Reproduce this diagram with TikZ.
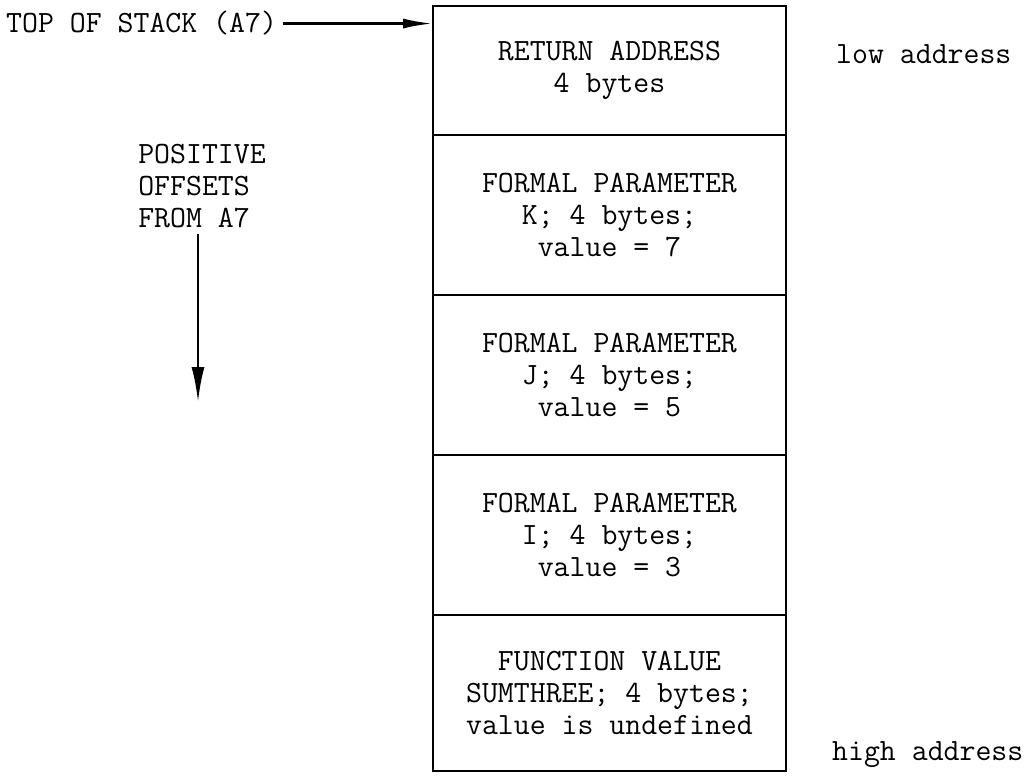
\documentclass[tikz,border=0pt]{standalone}
\usepackage{fontspec}
\usetikzlibrary{positioning,arrows.meta}

\begin{document}
\begin{tikzpicture}[x=0.02cm, y=-0.02cm]
  \tikzset{every node/.style={font=\ttfamily\fontsize{17.6}{18.4}\selectfont},
           cell/.style={draw, line width=1.1pt, outer sep=0pt, align=center, minimum width=7.06cm},
           ptr/.style={line width=1.5pt, -{Latex[length=0.6cm,width=0.2cm]}},
           offptr/.style={line width=1.5pt, -{Latex[length=0.7cm,width=0.26cm]}}}
  \useasboundingbox (0,0) rectangle (1029,776);
  \node[cell, minimum height=2.58cm, anchor=north west] (ret) at (433,6) {RETURN ADDRESS\\4 bytes};
  \node[cell, minimum height=3.2cm, below=0pt of ret] (parK) {FORMAL PARAMETER\\K; 4 bytes;\\value = 7};
  \node[cell, minimum height=3.2cm, below=0pt of parK] (parJ) {FORMAL PARAMETER\\J; 4 bytes;\\value = 5};
  \node[cell, minimum height=3.2cm, below=0pt of parJ] (parI) {FORMAL PARAMETER\\I; 4 bytes;\\value = 3};
  \node[cell, minimum height=3.12cm, below=0pt of parI] (fval) {FUNCTION VALUE\\SUMTHREE; 4 bytes;\\value is undefined};
  \node[anchor=base west] (tos) at (0,33) {TOP OF STACK (A7)};
  \node[align=left] (offs) at (202,186) {POSITIVE\\OFFSETS\\FROM A7};
  \node[anchor=base west] (low) at (830,64) {low address};
  \node[anchor=base west] (high) at (826,761) {high address};
  \coordinate (down) at (198,402);
  \draw[ptr] (tos.east) -- (tos.east -| ret.west);
  \draw[offptr] (offs.south -| down) -- (down);
\end{tikzpicture}
\end{document}
